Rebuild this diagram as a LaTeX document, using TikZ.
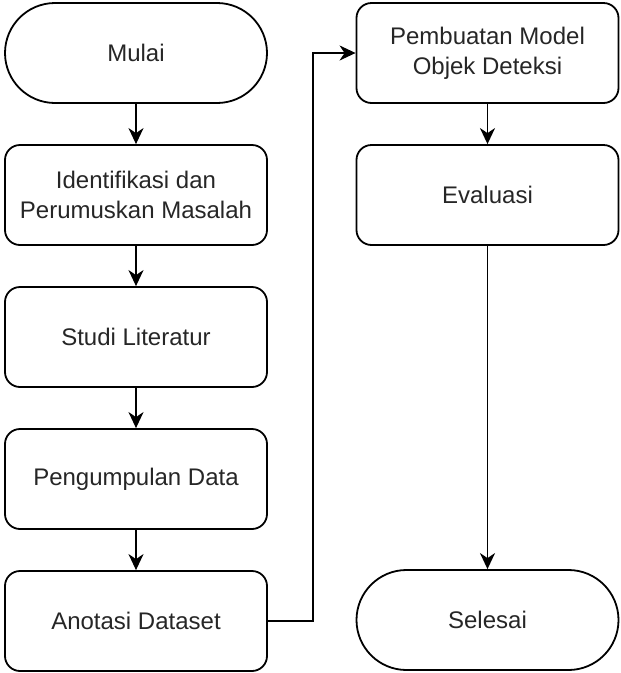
\documentclass[tikz,border=0pt]{standalone}
\usepackage{fontspec}
\setmainfont{Liberation Sans}
\usetikzlibrary{positioning,arrows.meta}

\begin{document}
\begin{tikzpicture}[
        every node/.style={font=\fontsize{24}{30}\selectfont, text=black!85, align=center},
        proses/.style={draw, line width=1.8pt, rounded corners=15pt, minimum width=262pt, minimum height=100pt, inner sep=0pt},
        terminal/.style={proses, rounded corners=50pt},
        panah/.style={line width=1.8pt, -{Stealth[length=16pt, width=15pt, inset=5pt]}},
        node distance=40.2pt
    ]
        \useasboundingbox (0,0) rectangle (621pt,-673pt);
        \node[terminal] (mulai) at (136pt,-53pt) {Mulai};
        \node[proses, below=of mulai] (identifikasi) {Identifikasi dan\\Perumuskan Masalah};
        \node[proses, below=of identifikasi] (studi) {Studi Literatur};
        \node[proses, below=of studi] (pengumpulan) {Pengumpulan Data};
        \node[proses, below=of pengumpulan] (anotasi) {Anotasi Dataset};
        \node[proses] (model) at (487.5pt,-53pt) {Pembuatan Model\\Objek Deteksi};
        \node[proses, below=of model] (evaluasi) {Evaluasi};
        \node[terminal] (selesai) at (487.5pt,-620pt) {Selesai};
        \draw[panah] (mulai) -- (identifikasi);
        \draw[panah] (identifikasi) -- (studi);
        \draw[panah] (studi) -- (pengumpulan);
        \draw[panah] (pengumpulan) -- (anotasi);
        \draw[panah] (anotasi.east) -- ++(45pt,0) |- (model.west);
        \draw[panah] (model) -- (evaluasi);
        \draw[panah] (evaluasi) -- (selesai);
    \end{tikzpicture}
\end{document}
